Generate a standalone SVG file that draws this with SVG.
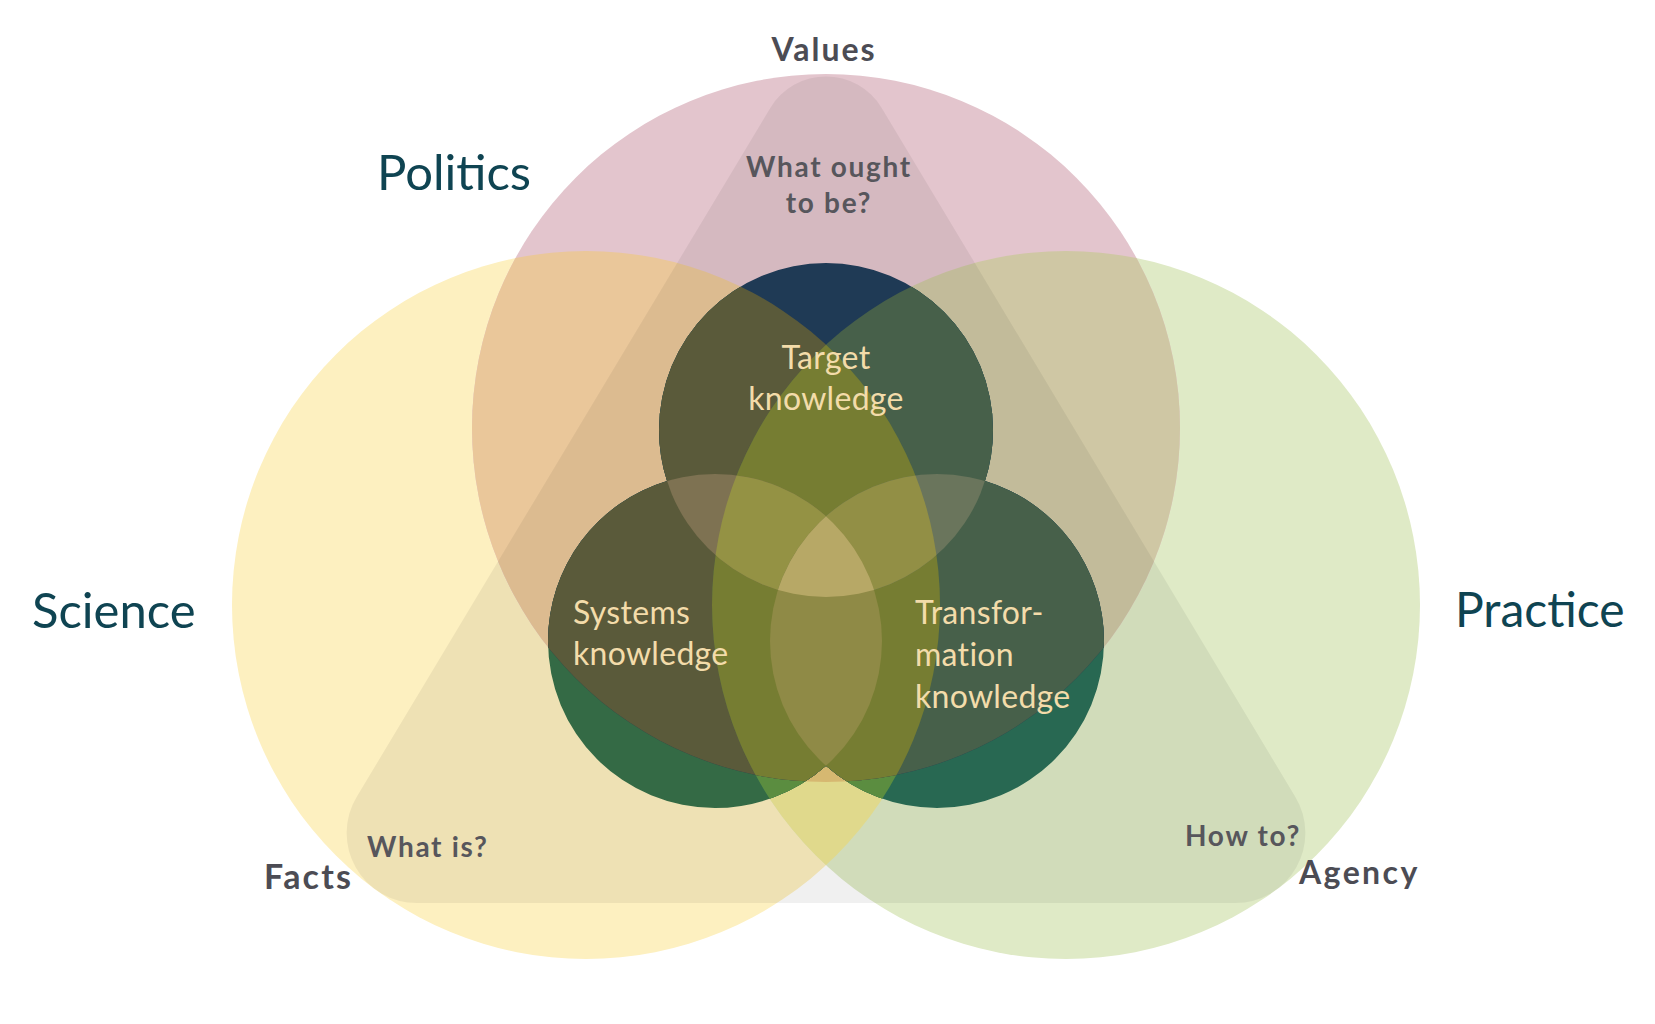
<svg xmlns="http://www.w3.org/2000/svg" width="1655" height="1024" viewBox="0 0 1655 1024">
<style>
.big{font-family:Lato,"Noto Sans","Liberation Sans",sans-serif;font-size:49px;fill:#0f4452;font-weight:400}
.lab{font-family:Lato,"Noto Sans","Liberation Sans",sans-serif;font-size:32px;fill:#4c4c54;font-weight:700;letter-spacing:2px}
.q{font-family:Lato,"Noto Sans","Liberation Sans",sans-serif;font-size:28px;fill:#57565c;font-weight:700;letter-spacing:1.7px}
.k{font-family:Lato,"Noto Sans","Liberation Sans",sans-serif;font-size:32px;fill:#f3dcaa;font-weight:400;letter-spacing:0.3px}
</style>
<defs>
<circle id="cP" cx="826" cy="428" r="354"/>
<circle id="cY" cx="586" cy="605" r="354"/>
<circle id="cG" cx="1066" cy="605" r="354"/>
<circle id="ct" cx="826" cy="430" r="167"/>
<circle id="cs" cx="715" cy="641" r="167"/>
<circle id="cf" cx="937" cy="641" r="167"/>
<clipPath id="clipP"><use href="#cP"/></clipPath>
<clipPath id="clipY"><use href="#cY"/></clipPath>
<clipPath id="clipG"><use href="#cG"/></clipPath>
<clipPath id="clipt"><use href="#ct"/></clipPath>
<clipPath id="clips"><use href="#cs"/></clipPath>
<clipPath id="clipf"><use href="#cf"/></clipPath>
<clipPath id="clipU"><use href="#ct"/><use href="#cs"/><use href="#cf"/></clipPath>
</defs>
<rect width="1655" height="1024" fill="#ffffff"/>

<g id="science"><use href="#cY" fill="#fdf0c0"/></g>
<g id="practice"><use href="#cG" fill="#dfeac6"/></g>
<g id="politics"><use href="#cP" fill="#e3c5cd"/></g>
<g id="big-overlaps">
<use href="#cY" clip-path="url(#clipP)" fill="#eac79a"/>
<use href="#cG" clip-path="url(#clipP)" fill="#cfc7a4"/>
<use href="#cG" clip-path="url(#clipY)" fill="#eee795"/>
<g clip-path="url(#clipP)"><use href="#cG" clip-path="url(#clipY)" fill="#e4c479"/></g>
</g>
<g id="questions-triangle">
<path d="M770.3 107.9 A65 65 0 0 1 881.7 107.9 L1295.4 797 A70 70 0 0 1 1235.4 903 L416.6 903 A70 70 0 0 1 356.6 797 Z" fill="#000000" fill-opacity="0.06"/>
</g>

<g id="knowledge-circles" clip-path="url(#clipU)">
<use href="#cY" fill="#346a45"/>
<use href="#cG" fill="#286852"/>
<use href="#cG" clip-path="url(#clipY)" fill="#5b8d40"/>
<use href="#cP" fill="#1f3a55"/>
<use href="#cY" clip-path="url(#clipP)" fill="#5a5a3a"/>
<use href="#cG" clip-path="url(#clipP)" fill="#47604a"/>
<g clip-path="url(#clipP)"><use href="#cG" clip-path="url(#clipY)" fill="#767d32"/></g>
</g>
<g id="target-systems" clip-path="url(#clipt)">
<use href="#cs" fill="#7e7252"/>
<g clip-path="url(#clips)"><use href="#cG" fill="#949244"/></g>
</g>
<g id="target-transformation" clip-path="url(#clipt)">
<use href="#cf" fill="#6a755c"/>
<g clip-path="url(#clipf)"><use href="#cY" fill="#928f45"/></g>
</g>
<g id="systems-transformation" clip-path="url(#clips)">
<use href="#cf" fill="#8f8a46"/>
</g>
<g id="all-three" clip-path="url(#clipt)">
<g clip-path="url(#clips)"><use href="#cf" fill="#b7a866"/></g>
</g>

<g id="labels">
<text class="lab" x="824" y="61" text-anchor="middle">Values</text>
<text class="big" x="377" y="190">Politics</text>
<text class="big" x="32" y="628">Science</text>
<text class="big" x="1455" y="627" style="font-size:48px">Practice</text>
<text class="q" x="829" y="177" text-anchor="middle">What ought</text>
<text class="q" x="829" y="213" text-anchor="middle">to be?</text>
<text class="q" x="367" y="857">What is?</text>
<text class="q" x="1185" y="846">How to?</text>
<text class="lab" x="264" y="889" style="font-size:34px;letter-spacing:2.2px">Facts</text>
<text class="lab" x="1299" y="884" style="letter-spacing:2.4px">Agency</text>
</g>
<g id="target-knowledge">
<text class="k" x="826" y="369" text-anchor="middle">Target</text>
<text class="k" x="826" y="410" text-anchor="middle">knowledge</text>
</g>
<g id="systems-knowledge">
<text class="k" x="573" y="624">Systems</text>
<text class="k" x="573" y="665">knowledge</text>
</g>
<g id="transformation-knowledge">
<text class="k" x="915" y="624">Transfor-</text>
<text class="k" x="915" y="666">mation</text>
<text class="k" x="915" y="708">knowledge</text>
</g>
</svg>
